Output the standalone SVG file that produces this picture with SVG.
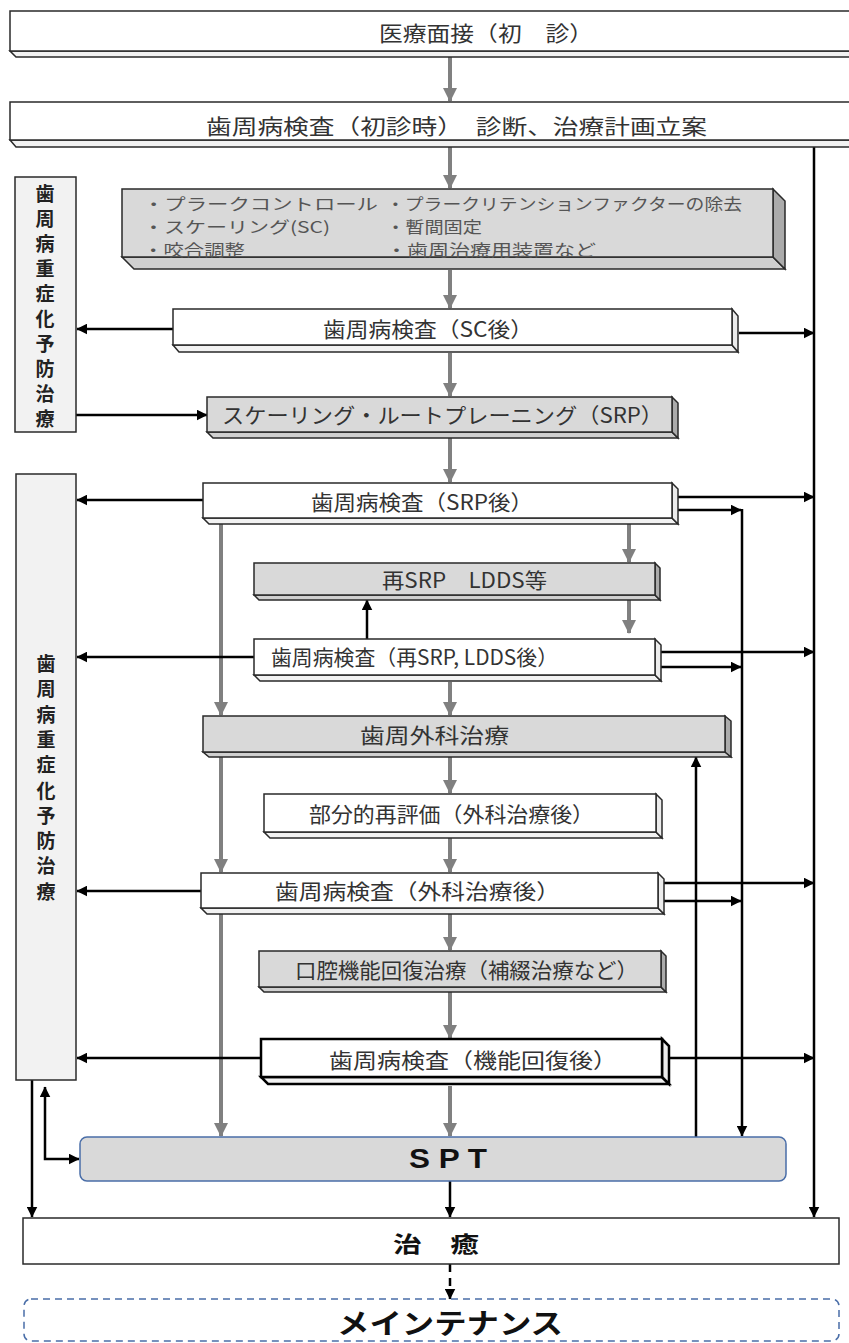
<svg xmlns="http://www.w3.org/2000/svg" width="849" height="1343" viewBox="0 0 849 1343">
<style>
.t{font-family:"Noto Sans CJK JP","Noto Sans",sans-serif;font-size:21px;fill:#333;dominant-baseline:central;}
.b{font-family:"Noto Sans CJK JP","Noto Sans",sans-serif;font-size:16px;fill:#555;dominant-baseline:central;}
.v{font-family:"Noto Sans CJK JP","Noto Sans",sans-serif;font-size:19px;font-weight:bold;fill:#222;text-anchor:middle;dominant-baseline:central;}
.w{fill:#fff;stroke:#2a2a2a;stroke-width:1.5;}
.ws{fill:#ececec;stroke:#2a2a2a;stroke-width:1.5;}
.g{fill:#d9d9d9;stroke:#2a2a2a;stroke-width:1.5;}
.gs{fill:#ababab;stroke:#2a2a2a;stroke-width:1.5;}
.gb{fill:#d0d0d0;stroke:#2a2a2a;stroke-width:1.5;}
.side{fill:#f2f2f2;stroke:#2a2a2a;stroke-width:1.5;}
.ga{stroke:#808080;stroke-width:4;fill:none;marker-end:url(#ag);}
.ba{stroke:#000;stroke-width:2.5;fill:none;marker-end:url(#ab);}
</style>
<defs>
<marker id="ag" viewBox="0 0 14 14" refX="13" refY="7" markerWidth="14" markerHeight="14" markerUnits="userSpaceOnUse" orient="auto"><path d="M0,0 L14,7 L0,14 z" fill="#808080"/></marker>
<marker id="ab" viewBox="0 0 10 10" refX="9.5" refY="5" markerWidth="11" markerHeight="11" markerUnits="userSpaceOnUse" orient="auto-start-reverse"><path d="M0,0 L10,5 L0,10 z" fill="#000"/></marker>
</defs>
<rect width="849" height="1343" fill="#fff"/>

<g id="connectors">
<line class="ga" x1="450" y1="57" x2="450" y2="101"/>
<line class="ga" x1="450" y1="147" x2="450" y2="188"/>
<line class="ga" x1="450" y1="270" x2="450" y2="308"/>
<line class="ga" x1="450" y1="353" x2="450" y2="396"/>
<line class="ga" x1="450" y1="437" x2="450" y2="482"/>
<line class="ga" x1="629" y1="523" x2="629" y2="562"/>
<line class="ga" x1="629" y1="600" x2="629" y2="633"/>
<line class="ga" x1="450" y1="682" x2="450" y2="715"/>
<line class="ga" x1="221" y1="523" x2="221" y2="715"/>
<line class="ga" x1="221" y1="757" x2="221" y2="872"/>
<line class="ga" x1="221" y1="913" x2="221" y2="1136"/>
<line class="ga" x1="450" y1="757" x2="450" y2="793"/>
<line class="ga" x1="450" y1="838" x2="450" y2="872"/>
<line class="ga" x1="450" y1="914" x2="450" y2="950"/>
<line class="ga" x1="450" y1="992" x2="450" y2="1038"/>
<line class="ga" x1="450" y1="1086" x2="450" y2="1136"/>

<line class="ba" x1="814" y1="140" x2="814" y2="1217"/>
<line class="ba" x1="173" y1="329" x2="77" y2="329"/>
<line class="ba" x1="739" y1="333" x2="814" y2="333"/>
<line class="ba" x1="76" y1="415" x2="207" y2="415"/>
<line class="ba" x1="203" y1="500" x2="77" y2="500"/>
<line class="ba" x1="678" y1="497" x2="814" y2="497"/>
<line class="ba" x1="678" y1="510" x2="741" y2="510"/>
<line class="ba" x1="742" y1="509" x2="742" y2="1136"/>
<line class="ba" x1="367" y1="639" x2="367" y2="600"/>
<line class="ba" x1="254" y1="657" x2="77" y2="657"/>
<line class="ba" x1="661" y1="652" x2="814" y2="652"/>
<line class="ba" x1="661" y1="667" x2="741" y2="667"/>
<line class="ba" x1="696" y1="1137" x2="696" y2="757"/>
<line class="ba" x1="201" y1="891" x2="77" y2="891"/>
<line class="ba" x1="664" y1="883" x2="814" y2="883"/>
<line class="ba" x1="664" y1="901" x2="741" y2="901"/>
<line class="ba" x1="261" y1="1058" x2="77" y2="1058"/>
<line class="ba" x1="669" y1="1058" x2="814" y2="1058"/>
<line class="ba" x1="32" y1="1080" x2="32" y2="1217"/>
<path class="ba" d="M45,1087 V1159 H79" marker-start="url(#ab)"/>
<line class="ba" x1="450" y1="1181" x2="450" y2="1217"/>
<line class="ba" x1="450" y1="1264" x2="450" y2="1299" stroke-dasharray="8,6"/>
</g>

<g id="n-iryo">
<polygon class="side" points="10,51 849,51 855,57 16,57"/>
<rect class="w" x="10" y="11" width="845" height="40"/>
<text class="t" x="379" y="32" textLength="214" lengthAdjust="spacingAndGlyphs">医療面接（初　診）</text>
</g>

<g id="n-kensa-shoshin">
<polygon class="side" points="10,140 849,140 855,147 16,147"/>
<rect class="w" x="10" y="102" width="845" height="38"/>
<text class="t" x="206" y="125" textLength="501" lengthAdjust="spacingAndGlyphs">歯周病検査（初診時）　診断、治療計画立案</text>
</g>

<g id="n-basic">
<polygon class="gb" points="122,257 773,257 785,269 134,269"/>
<polygon class="gs" points="773,189 785,201 785,269 773,257"/>
<rect class="g" x="122" y="189" width="651" height="68"/>
<text class="b" x="143" y="203" textLength="235" lengthAdjust="spacingAndGlyphs">・プラークコントロール</text>
<text class="b" x="143" y="226" textLength="187" lengthAdjust="spacingAndGlyphs">・スケーリング(SC)</text>
<text class="b" x="143" y="249" textLength="102" lengthAdjust="spacingAndGlyphs">・咬合調整</text>
<text class="b" x="386" y="203" textLength="356" lengthAdjust="spacingAndGlyphs">・プラークリテンションファクターの除去</text>
<text class="b" x="386" y="226" textLength="96" lengthAdjust="spacingAndGlyphs">・暫間固定</text>
<text class="b" x="386" y="249" textLength="210" lengthAdjust="spacingAndGlyphs">・歯周治療用装置など</text>
</g>

<g id="n-left1">
<rect x="15" y="177" width="61" height="255" fill="#f2f2f2" stroke="#2a2a2a" stroke-width="1.5"/>
<text class="v"><tspan x="45" y="192">歯</tspan><tspan x="45" y="217">周</tspan><tspan x="45" y="242">病</tspan><tspan x="45" y="267">重</tspan><tspan x="45" y="292">症</tspan><tspan x="45" y="317">化</tspan><tspan x="45" y="342">予</tspan><tspan x="45" y="367">防</tspan><tspan x="45" y="392">治</tspan><tspan x="45" y="417">療</tspan></text>
</g>

<g id="n-left2">
<rect x="16" y="474" width="60" height="606" fill="#f2f2f2" stroke="#2a2a2a" stroke-width="1.5"/>
<text class="v"><tspan x="46" y="662">歯</tspan><tspan x="46" y="687">周</tspan><tspan x="46" y="713">病</tspan><tspan x="46" y="738">重</tspan><tspan x="46" y="763">症</tspan><tspan x="46" y="789">化</tspan><tspan x="46" y="814">予</tspan><tspan x="46" y="839">防</tspan><tspan x="46" y="864">治</tspan><tspan x="46" y="890">療</tspan></text>
</g>

<g id="n-sc">
<polygon class="side" points="173,345 732,345 738,352 179,352"/>
<polygon class="ws" points="732,309 738,316 738,352 732,345"/>
<rect class="w" x="173" y="309" width="559" height="36"/>
<text class="t" x="323" y="328" textLength="210" lengthAdjust="spacingAndGlyphs">歯周病検査（SC後）</text>
</g>

<g id="n-srp">
<polygon class="gb" points="207,432 672,432 678,438 213,438"/>
<polygon class="gs" points="672,397 678,403 678,438 672,432"/>
<rect class="g" x="207" y="397" width="465" height="35"/>
<text class="t" x="222" y="414" textLength="441" lengthAdjust="spacingAndGlyphs">スケーリング・ルートプレーニング（SRP）</text>
</g>

<g id="n-srp-kensa">
<polygon class="side" points="203,518 672,518 678,524 209,524"/>
<polygon class="ws" points="672,483 678,489 678,524 672,518"/>
<rect class="w" x="203" y="483" width="469" height="35"/>
<text class="t" x="311" y="501" textLength="222" lengthAdjust="spacingAndGlyphs">歯周病検査（SRP後）</text>
</g>

<g id="n-resrp">
<polygon class="gb" points="254,595 655,595 660,600 259,600"/>
<polygon class="gs" points="655,563 660,568 660,600 655,595"/>
<rect class="g" x="254" y="563" width="401" height="32"/>
<text class="t" x="382" y="579" textLength="165" lengthAdjust="spacingAndGlyphs">再SRP　LDDS等</text>
</g>

<g id="n-resrp-kensa">
<polygon class="side" points="254,675 655,675 661,681 260,681"/>
<polygon class="ws" points="655,639 661,645 661,681 655,675"/>
<rect class="w" x="254" y="639" width="401" height="36"/>
<text class="t" x="271" y="656" textLength="287" lengthAdjust="spacingAndGlyphs">歯周病検査（再SRP, LDDS後）</text>
</g>

<g id="n-geka">
<polygon class="gb" points="203,752 725,752 731,757 209,757"/>
<polygon class="gs" points="725,716 731,721 731,757 725,752"/>
<rect class="g" x="203" y="716" width="522" height="36"/>
<text class="t" x="360" y="734" textLength="149" lengthAdjust="spacingAndGlyphs">歯周外科治療</text>
</g>

<g id="n-bubun">
<polygon class="side" points="264,832 656,832 662,838 270,838"/>
<polygon class="ws" points="656,794 662,800 662,838 656,832"/>
<rect class="w" x="264" y="794" width="392" height="38"/>
<text class="t" x="309" y="813" textLength="285" lengthAdjust="spacingAndGlyphs">部分的再評価（外科治療後）</text>
</g>

<g id="n-geka-kensa">
<polygon class="side" points="201,908 658,908 664,914 207,914"/>
<polygon class="ws" points="658,873 664,879 664,914 658,908"/>
<rect class="w" x="201" y="873" width="457" height="35"/>
<text class="t" x="275" y="890" textLength="285" lengthAdjust="spacingAndGlyphs">歯周病検査（外科治療後）</text>
</g>

<g id="n-kokuu">
<polygon class="gb" points="259,987 661,987 666,992 264,992"/>
<polygon class="gs" points="661,951 666,956 666,992 661,987"/>
<rect class="g" x="259" y="951" width="402" height="36"/>
<text class="t" x="295" y="969" textLength="343" lengthAdjust="spacingAndGlyphs">口腔機能回復治療（補綴治療など）</text>
</g>

<g id="n-kino-kensa">
<polygon points="261,1077 662,1077 669,1084 268,1084" fill="#f2f2f2" stroke="#000" stroke-width="2.5"/>
<polygon points="662,1039 669,1046 669,1084 662,1077" fill="#ececec" stroke="#000" stroke-width="2.5"/>
<rect x="261" y="1039" width="401" height="38" fill="#fff" stroke="#000" stroke-width="2.5"/>
<text class="t" x="329" y="1059" textLength="288" lengthAdjust="spacingAndGlyphs">歯周病検査（機能回復後）</text>
</g>

<g id="n-spt">
<rect x="80" y="1137" width="706" height="44" rx="7" fill="#d9d9d9" stroke="#4a6ea8" stroke-width="1.5"/>
<text x="409" y="1159" textLength="78" lengthAdjust="spacingAndGlyphs" style="font-family:'Liberation Sans',sans-serif;font-size:27px;font-weight:bold;fill:#111;dominant-baseline:central;">S P T</text>
</g>

<g id="n-chiyu">
<rect x="23" y="1218" width="816" height="46" fill="#fff" stroke="#2a2a2a" stroke-width="1.5"/>
<text x="393" y="1242" textLength="86" lengthAdjust="spacingAndGlyphs" style="font-family:'Noto Sans CJK JP',sans-serif;font-size:22px;font-weight:bold;fill:#111;dominant-baseline:central;">治　癒</text>
</g>

<g id="n-maint">
<rect x="24" y="1299" width="815" height="42" rx="7" fill="none" stroke="#4a6ea8" stroke-width="1.5" stroke-dasharray="7,5"/>
<text x="337" y="1322" textLength="226" lengthAdjust="spacingAndGlyphs" style="font-family:'Noto Sans CJK JP',sans-serif;font-size:28px;font-weight:bold;fill:#111;dominant-baseline:central;">メインテナンス</text>
</g>
</svg>
